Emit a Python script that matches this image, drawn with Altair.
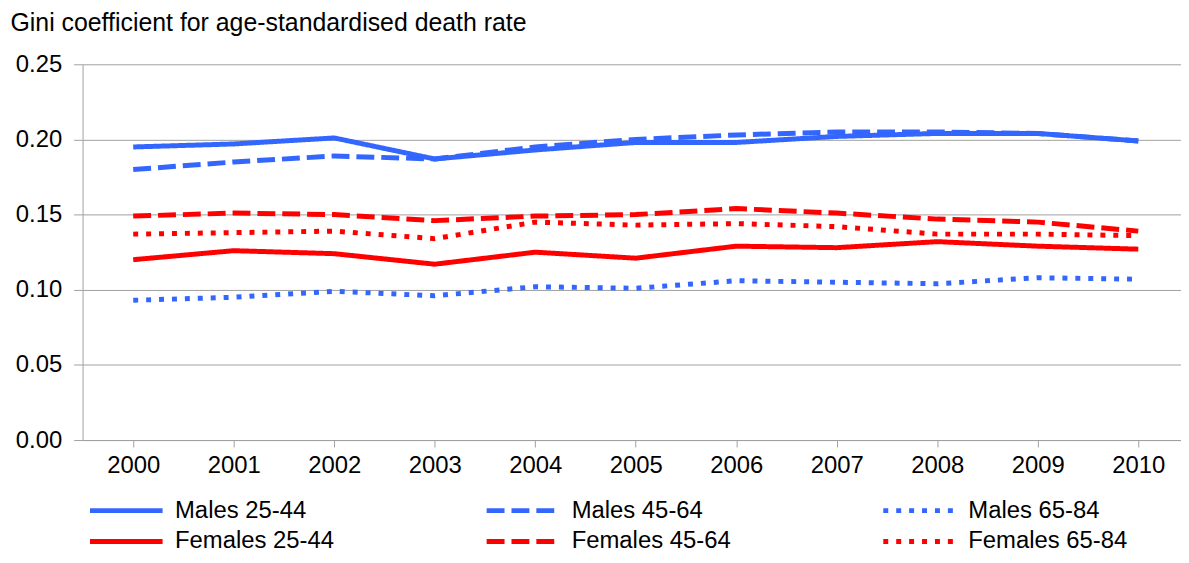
import altair as alt
import pandas as pd

years = list(range(2000, 2011))
series_names = ["Males 25-44", "Males 45-64", "Males 65-84",
                "Females 25-44", "Females 45-64", "Females 65-84"]

males_25_44 = [0.195, 0.197, 0.201, 0.187, 0.193, 0.198, 0.198, 0.202, 0.204, 0.204, 0.199]
males_45_64 = [0.180, 0.185, 0.189, 0.187, 0.195, 0.200, 0.203, 0.205, 0.205, 0.204, 0.199]
males_65_84 = [0.093, 0.095, 0.099, 0.096, 0.102, 0.101, 0.106, 0.105, 0.104, 0.108, 0.107]
females_25_44 = [0.120, 0.126, 0.124, 0.117, 0.125, 0.121, 0.129, 0.128, 0.132, 0.129, 0.127]
females_45_64 = [0.149, 0.151, 0.150, 0.146, 0.149, 0.150, 0.154, 0.151, 0.147, 0.145, 0.139]
females_65_84 = [0.137, 0.138, 0.139, 0.134, 0.145, 0.143, 0.144, 0.142, 0.137, 0.137, 0.136]

y_ticks = [0.0, 0.05, 0.10, 0.15, 0.20, 0.25]

all_series = [males_25_44, males_45_64, males_65_84, females_25_44, females_45_64, females_65_84]
rows = []
for name, vals in zip(series_names, all_series):
    for yr, v in zip(years, vals):
        rows.append({"year": yr, "gini": v, "series": name})
df = pd.DataFrame(rows)

BLUE = "#3366ff"
RED = "#ff0000"
GRID = "#a0a0a0"
colors = [BLUE, BLUE, BLUE, RED, RED, RED]
dashes = [[1, 0], [18, 7], [5, 8], [1, 0], [18, 7], [5, 8]]

chart = alt.Chart(df).mark_line(strokeWidth=5, strokeJoin="round").encode(
    x=alt.X("year:Q",
            scale=alt.Scale(domain=[1999.496, 2010.425], nice=False, zero=False),
            axis=alt.Axis(values=years, format="d", grid=False, title=None,
                          tickSize=7, tickColor=GRID, domainColor=GRID,
                          labelFontSize=24, labelColor="#000000", labelPadding=7,
                          labelFlush=False)),
    y=alt.Y("gini:Q",
            scale=alt.Scale(domain=[0, 0.25], nice=False),
            axis=alt.Axis(values=y_ticks, format=".2f", grid=True, gridColor=GRID,
                          tickSize=9, tickColor=GRID, domainColor=GRID,
                          labelFontSize=24, labelColor="#000000", labelPadding=12,
                          title="Gini coefficient for age-standardised death rate",
                          titleAngle=0, titleAlign="left", titleBaseline="alphabetic",
                          titleX=-73, titleY=-34, titleFontSize=25,
                          titleFontWeight="normal", titleColor="#000000")),
    color=alt.Color("series:N", scale=alt.Scale(domain=series_names, range=colors),
                    legend=alt.Legend(title=None)),
    strokeDash=alt.StrokeDash("series:N", scale=alt.Scale(domain=series_names, range=dashes),
                              legend=alt.Legend(title=None)),
).properties(
    width=1105, height=378,
    padding={"left": 75, "top": 55, "right": 0, "bottom": 114},
    autosize=alt.AutoSizeParams(type="none"),
).configure(
    font="Liberation Sans"
).configure_view(
    stroke=None
).configure_legend(
    orient="none", legendX=5, legendY=437, columns=3, direction="horizontal",
    symbolType="stroke", symbolSize=5329, symbolStrokeWidth=5,
    clipHeight=24, labelFontSize=24, labelColor="#000000", labelOffset=10,
    columnPadding=150, rowPadding=7, padding=0, labelLimit=400,
)

chart.save("out.html", embed_options={"renderer": "svg", "actions": False})
